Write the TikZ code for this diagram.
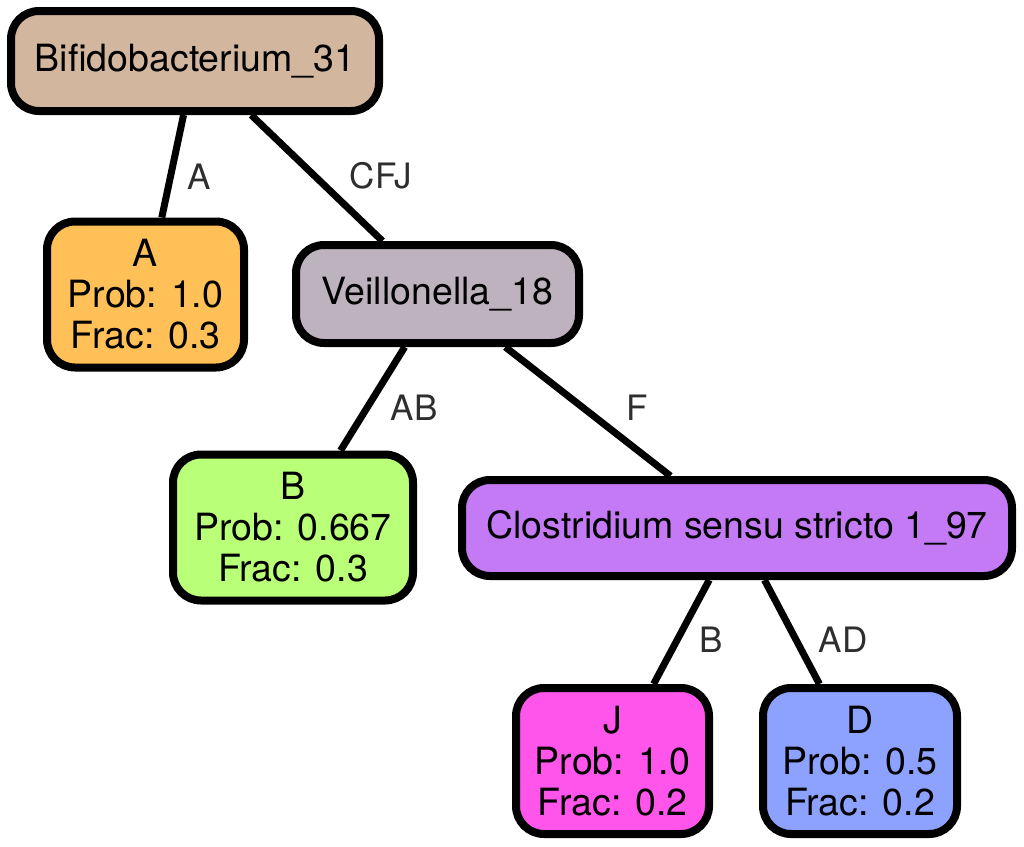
\documentclass[tikz,border=0pt]{standalone}
\usepackage{fontspec}
\setmainfont{TeX Gyre Heros}
\usetikzlibrary{backgrounds}
\definecolor{bifcol}{HTML}{D2B79E}
\definecolor{acol}{HTML}{FEC057}
\definecolor{veilcol}{HTML}{BEB2BF}
\definecolor{bcol}{HTML}{BAFF78}
\definecolor{closcol}{HTML}{C47AF5}
\definecolor{jcol}{HTML}{FF55EA}
\definecolor{dcol}{HTML}{8DA2FF}
\definecolor{labgray}{HTML}{2E2E2E}
\begin{document}
\begin{tikzpicture}[x=1pt,y=-1pt,
  tnode/.style={draw=black, line width=8pt, rounded corners=28pt, inner sep=0pt,
    align=center, font=\fontsize{37.5}{41}\selectfont},
  leaf/.style={tnode, minimum width=196pt, minimum height=146pt},
  elabel/.style={text=labgray, inner sep=0pt, font=\fontsize{35}{40}\selectfont},
  edgeline/.style={line width=7pt, draw=black}]
\useasboundingbox (0,0) rectangle (1024,846);

\node[tnode, fill=bifcol, minimum width=368pt, minimum height=100pt] (bif) at (195,61) {Bifidobacterium\_31};
\node[leaf, fill=acol, minimum width=197pt] (a) at (145.5,294.5) {A\\Prob: 1.0\\Frac: 0.3};
\node[tnode, fill=veilcol, minimum width=283pt, minimum height=98pt] (veil) at (437.5,294) {Veillonella\_18};
\node[leaf, fill=bcol, minimum width=240pt] (b) at (293,527.5) {B\\Prob: 0.667\\Frac: 0.3};
\node[tnode, fill=closcol, minimum width=550pt, minimum height=96pt] (clos) at (737,528) {Clostridium sensu stricto 1\_97};
\node[leaf, fill=jcol, minimum width=193pt] (j) at (612.5,761) {J\\Prob: 1.0\\Frac: 0.2};
\node[leaf, fill=dcol, minimum width=194pt] (d) at (860,761) {D\\Prob: 0.5\\Frac: 0.2};

\node[elabel] (la) at (199,177) {A};
\node[elabel] (lcfj) at (381,176) {CFJ};
\node[elabel] (lab) at (414,408) {AB};
\node[elabel] (lf) at (637,408) {F};
\node[elabel] (lb) at (711,640) {B};
\node[elabel] (lad) at (843,640) {AD};

\begin{scope}[on background layer]
\draw[edgeline] (bif) -- (a);
\draw[edgeline] (bif) -- (veil);
\draw[edgeline] (veil) -- (b);
\draw[edgeline] (veil) -- (clos);
\draw[edgeline] (clos) -- (j);
\draw[edgeline] (clos) -- (d);
\end{scope}
\end{tikzpicture}
\end{document}
